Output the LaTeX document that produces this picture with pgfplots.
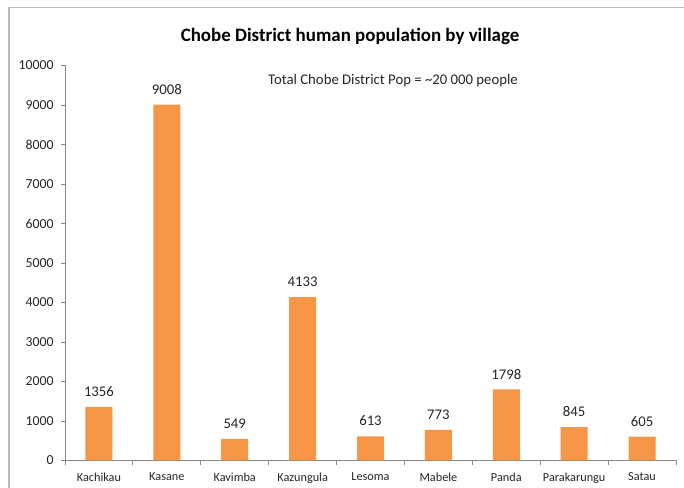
\documentclass[border=0pt]{standalone}
\usepackage{pgfplots}
\pgfplotsset{compat=1.18}
\usepackage{fontspec}
\setmainfont{Carlito}
\definecolor{barorange}{HTML}{F79646}
\definecolor{axgray}{HTML}{868686}
\definecolor{txt}{HTML}{262626}
\begin{document}
\begin{tikzpicture}[x=1bp,y=1bp]
\useasboundingbox (0,0) rectangle (684,488);
\fill[white] (0,0) rectangle (684,488);
\draw[gray!55, line width=1.3bp] (9,0) -- (9,480.5) -- (684,480.5);
\begin{axis}[
  at={(65bp,27.5bp)}, anchor=south west,
  scale only axis, width=611bp, height=395bp,
  xmin=-0.5, xmax=8.5, ymin=0, ymax=10000,
  ybar, bar width=27bp, bar shift=0pt,
  axis x line*=bottom, axis y line*=left,
  axis line style={axgray, line width=0.8bp, -},
  xtick={0,...,8},
  xticklabels={Kachikau,Kasane,Kavimba,Kazungula,Lesoma,Mabele,Panda,Parakarungu,Satau},
  major x tick style={draw=none},
  minor xtick={-0.5,0.5,...,8.5},
  minor tick length=5bp,
  ytick={0,1000,...,10000},
  scaled y ticks=false,
  major tick length=4bp,
  tick align=outside,
  tick style={axgray, line width=0.8bp},
  /pgf/number format/1000 sep={},
  /pgf/number format/assume math mode=true,
  xticklabel style={font=\fontsize{12.3}{14}\selectfont, text=txt, yshift=-5bp},
  yticklabel style={font=\fontsize{13.8}{16}\selectfont, text=txt, xshift=-4bp},
  nodes near coords,
  nodes near coords style={font=\fontsize{14.8}{17}\selectfont, text=txt, inner sep=2bp, yshift=8bp},
]
\addplot[fill=barorange, draw=none] coordinates {
  (0,1356) (1,9008) (2,549) (3,4133) (4,613) (5,773) (6,1798) (7,845) (8,605)
};
\end{axis}
\node[font=\bfseries\fontsize{19}{22}\selectfont, text=black] at (350,452) {Chobe District human population by village};
\node[font=\fontsize{14.8}{17}\selectfont, text=txt] at (393,407) {Total Chobe District Pop = \textasciitilde 20 000 people};
\end{tikzpicture}
\end{document}
